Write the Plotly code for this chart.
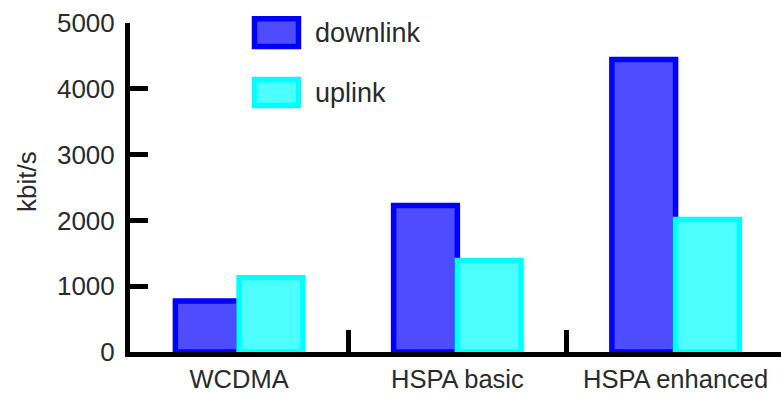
import plotly.graph_objects as go

categories = ["WCDMA", "HSPA basic", "HSPA enhanced"]
downlink = [775, 2225, 4445]
uplink = [1130, 1390, 2015]
y_ticks = [0, 1000, 2000, 3000, 4000, 5000]

W, H = 781, 397
ML, MR, MT, MB = 130, 0, 23, 45
PW, PH = W - ML - MR, H - MT - MB
TEXT = "#2a2a2a"


def px(x):
    return (x - ML) / PW


def py(y):
    return (H - MB - y) / PH


fig = go.Figure()
fig.add_trace(go.Bar(
    x=categories, y=downlink, name="downlink",
    marker=dict(color="#4d4dff", line=dict(color="#0000ff", width=5.5)),
))
fig.add_trace(go.Bar(
    x=categories, y=uplink, name="uplink",
    marker=dict(color="#4dffff", line=dict(color="#00ffff", width=5.5)),
))

# manual legend (large swatches as in reference)
legend_items = [("downlink", "#4d4dff", "#0000ff", 18.8, 46.5),
                ("uplink", "#4dffff", "#00ffff", 79.5, 105.5)]
for name, fill, line, y0, y1 in legend_items:
    fig.add_shape(type="rect", xref="paper", yref="paper",
                  x0=px(254.5), x1=px(298.5), y0=py(y1), y1=py(y0),
                  fillcolor=fill, line=dict(color=line, width=5.5))
    fig.add_annotation(xref="paper", yref="paper", x=px(313), y=py((y0 + y1) / 2),
                       text=name, showarrow=False, xanchor="left", yanchor="middle",
                       font=dict(family="Liberation Sans, Arial, sans-serif", size=27, color=TEXT))

fig.add_annotation(xref="paper", yref="paper", x=px(27), y=py(182),
                   text="kbit/s", showarrow=False, textangle=-90,
                   xanchor="center", yanchor="middle",
                   font=dict(family="Liberation Sans, Arial, sans-serif", size=26, color=TEXT))

fig.update_layout(
    width=W, height=H,
    margin=dict(l=ML, r=MR, t=MT, b=MB, pad=0, autoexpand=False),
    paper_bgcolor="white", plot_bgcolor="white",
    barmode="group", bargap=0.416, bargroupgap=0,
    showlegend=False,
    xaxis=dict(
        type="category", range=[-0.5, 2.483], automargin=False,
        showline=True, linecolor="black", linewidth=5,
        ticks="inside", tickson="boundaries", ticklen=22, tickwidth=5, tickcolor="black",
        tickangle=0,
        showgrid=False, zeroline=False,
        tickfont=dict(family="Liberation Sans, Arial, sans-serif", size=25.5, color=TEXT),
    ),
    yaxis=dict(
        range=[0, 5000], tickvals=y_ticks, automargin=False,
        showline=True, linecolor="black", linewidth=5,
        ticks="inside", ticklen=18, tickwidth=5, tickcolor="black",
        ticklabelstandoff=5,
        showgrid=False, zeroline=False,
        tickfont=dict(family="Liberation Sans, Arial, sans-serif", size=26, color=TEXT),
    ),
)

fig.write_html(
    "out.html",
    config={"displayModeBar": False},
    post_script="document.body.style.margin='0';document.body.style.padding='0';",
)
